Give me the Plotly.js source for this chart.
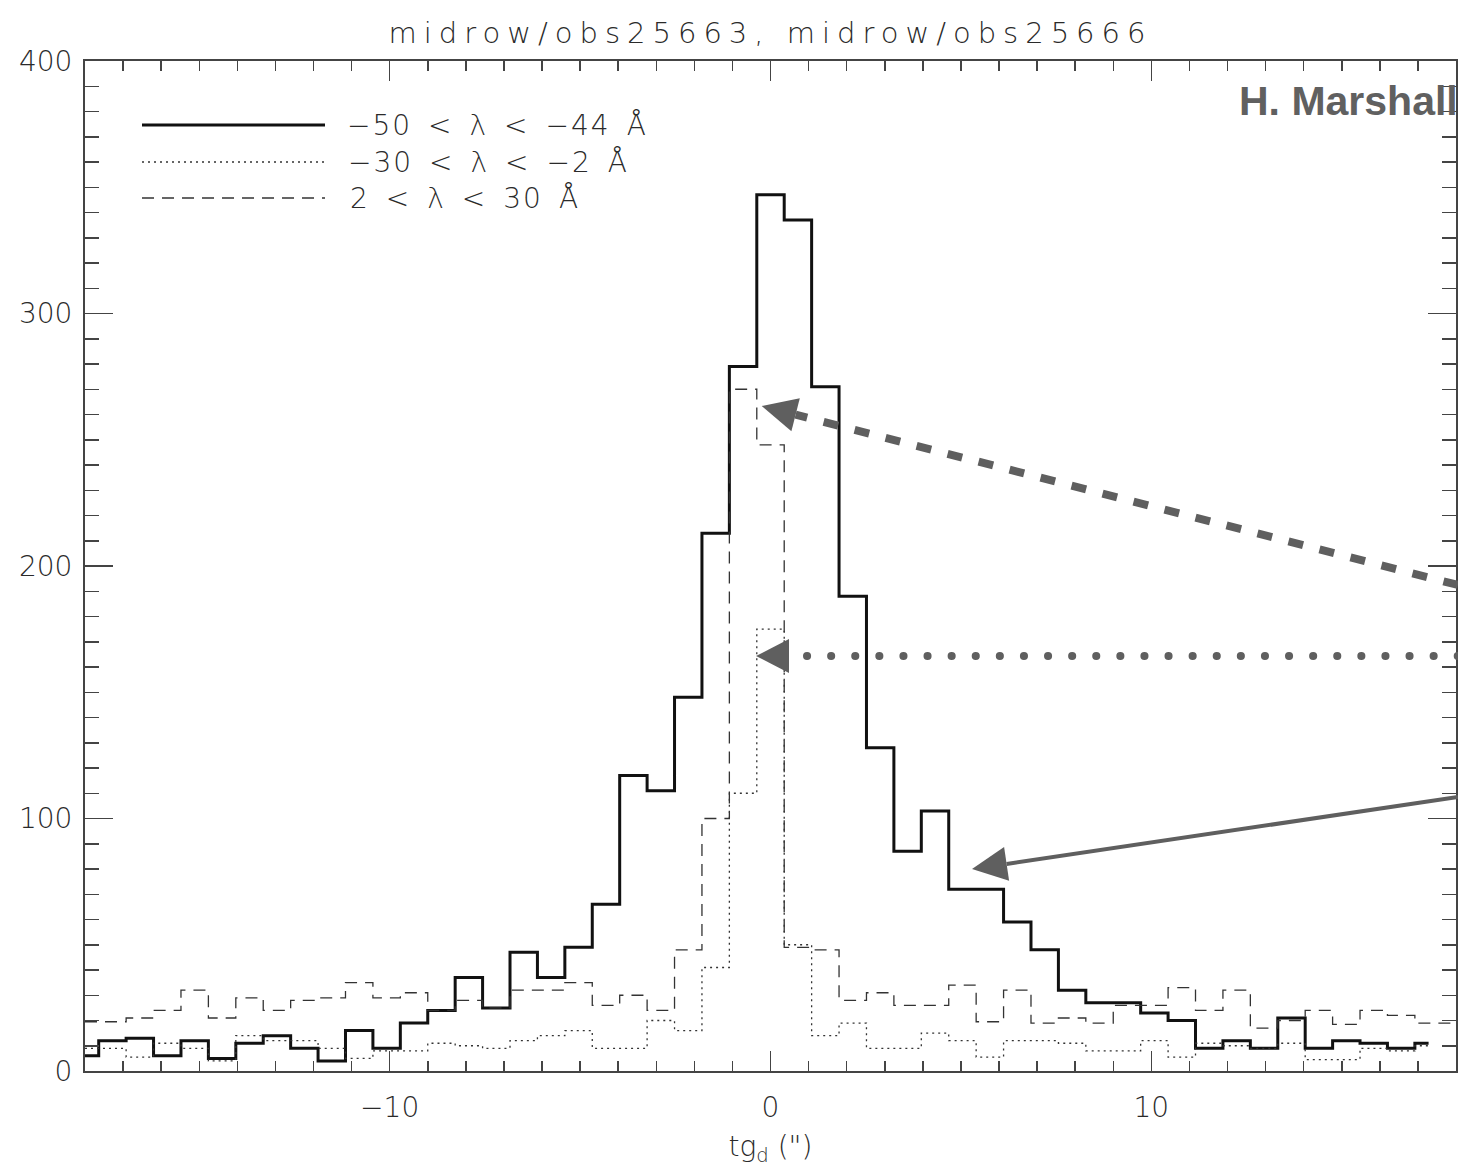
<!DOCTYPE html>
<html><head><meta charset="utf-8">
<script src="https://cdn.plot.ly/plotly-3.0.1.min.js"></script>
<style>html,body{margin:0;padding:0;background:#fff}</style>
</head><body>
<div id="chart" style="width:1458px;height:1168px"></div>
<script>
// bin centres of tg_d (arcsec)
const tgd = [-18.00,-17.28,-16.56,-15.84,-15.12,-14.40,-13.68,-12.96,-12.24,-11.52,-10.80,-10.08,-9.36,-8.64,-7.92,-7.20,-6.48,-5.76,-5.04,-4.32,-3.60,-2.88,-2.16,-1.44,-0.72,0.00,0.72,1.44,2.16,2.88,3.60,4.32,5.04,5.76,6.48,7.20,7.92,8.64,9.36,10.08,10.80,11.52,12.24,12.96,13.68,14.40,15.12,15.84,16.56,17.28,18.00];
// -50 < lambda < -44 A  (solid)
const counts_m50_m44 = [6,12,13,6,12,5,11,14,9,4,16,9,19,24,37,25,47,37,49,66,117,111,148,213,279,347,337,271,188,128,87,103,72,72,59,48,32,27,27,23,20,9,12,9,21,9,12,11,9,11];
// -30 < lambda < -2 A  (dotted)
const counts_m30_m2 = [9,9,5.5,11,9,4,14,12,12,9,5,8,8,11,10,9,12,14,16,9,9,20,16,41,110,175,50,14,19,9,9,15,12,5.5,12,12,11,8,8,12,5.5,11,10,9,11,4.5,4.5,9,8,10];
// 2 < lambda < 30 A  (dashed)
const counts_2_30 = [19.5,19.5,21,24,32,21,29,24,28,29,35,29,31,24,28,25,32,32,35,26,30,24,48,100,270,248,49,48,28,31,26,26,34,19.5,32,19,21,19,26,26,33,24,32,17,20,24,18.5,24,22,19,19];

const seriesNames = ['\u221250\u2002<\u2002\u03bb\u2002<\u2002\u221244\u2002\u00c5',
                     '\u221230\u2002<\u2002\u03bb\u2002<\u2002\u22122\u2002\u00c5',
                     '2\u2002<\u2002\u03bb\u2002<\u200230\u2002\u00c5'];
const xTickVals = [-10, 0, 10];
const yTickVals = [0, 100, 200, 300, 400];
const titleText = 'midrow/obs25663, midrow/obs25666';

const FONT = 'DejaVu Sans';
const TXT = '#2a2a2a';
const ARROW = '#5f5f5f';

// layout geometry helpers (pixel -> paper)
const L = 85, T = 61, W = 1371, H = 1010;
const px = p => (p - L) / W;
const py = p => (T + H - p) / H;
const pathOf = pts => 'M' + pts.map(p => px(p[0]) + ',' + py(p[1])).join('L') + 'Z';

const styles = [
  {color: '#111', width: 3, dash: 'solid'},
  {color: '#333', width: 1.3, dash: '2px,4px'},
  {color: '#333', width: 1.3, dash: '12px,8px'}
];
const ys = [counts_m50_m44, counts_m30_m2, counts_2_30];

const traces = ys.map((y, i) => ({
  type: 'scatter', mode: 'lines',
  x: tgd.slice(0, y.length), y: y,
  name: seriesNames[i],
  line: {shape: 'hvh', color: styles[i].color, width: styles[i].width, dash: styles[i].dash},
  showlegend: false, hoverinfo: 'skip'
}));

const legendY = [125, 162, 198];
const shapes = [];
const annotations = [];
legendY.forEach((yy, i) => {
  shapes.push({type: 'line', xref: 'paper', yref: 'paper', x0: px(142), x1: px(325), y0: py(yy), y1: py(yy),
    line: {color: styles[i].color, width: styles[i].width, dash: styles[i].dash}});
  annotations.push({xref: 'paper', yref: 'paper', x: px(360), y: py(yy), xanchor: 'left', yanchor: 'middle',
    text: seriesNames[i], showarrow: false, font: {family: FONT, size: 28, weight: 300, color: TXT}});
});

// arrows (annotation marks)
shapes.push({type: 'line', xref: 'paper', yref: 'paper', x0: px(1458), y0: py(585), x1: px(795.6), y1: py(414.7),
  line: {color: ARROW, width: 8, dash: '15px,17px'}});
shapes.push({type: 'path', xref: 'paper', yref: 'paper', path: pathOf([[761.7,406],[791.4,431.2],[799.8,398.2]]),
  fillcolor: ARROW, line: {width: 0}});
shapes.push({type: 'line', xref: 'paper', yref: 'paper', x0: px(807), y0: py(656), x1: px(1462), y1: py(656),
  line: {color: ARROW, width: 8, dash: '8px,16px'}});
shapes.push({type: 'path', xref: 'paper', yref: 'paper', path: pathOf([[756,656],[789,639],[789,673]]),
  fillcolor: ARROW, line: {width: 0}});
shapes.push({type: 'line', xref: 'paper', yref: 'paper', x0: px(1458), y0: py(797), x1: px(1006.6), y1: py(863.9),
  line: {color: ARROW, width: 4}});
shapes.push({type: 'path', xref: 'paper', yref: 'paper', path: pathOf([[972,869],[1009.1,880.7],[1004.1,847.1]]),
  fillcolor: ARROW, line: {width: 0}});

annotations.push({xref: 'paper', yref: 'paper', x: px(1460), y: py(101), xanchor: 'right', yanchor: 'middle',
  text: 'H. Marshall', showarrow: false,
  font: {family: 'Liberation Sans', size: 41, weight: 'bold', color: '#606060'}});

const axisCommon = {
  showline: true, linecolor: '#444', linewidth: 2, mirror: 'ticks',
  ticks: 'inside', tickcolor: '#444', tickwidth: 1.5,
  showgrid: false, zeroline: false,
  tickfont: {family: FONT, size: 28, weight: 300, color: TXT}
};

const layout = {
  width: 1458, height: 1168,
  margin: {l: L, r: 1458 - L - W, t: T, b: 1168 - T - H, pad: 0},
  paper_bgcolor: '#fff', plot_bgcolor: '#fff',
  showlegend: false,
  title: {text: titleText, x: 0.5, xref: 'paper', xanchor: 'center', y: 1 - 33 / 1168, yref: 'container', yanchor: 'middle',
    font: {family: FONT, size: 29, weight: 300, color: TXT}},
  xaxis: Object.assign({}, axisCommon, {
    range: [-18, 18], tickmode: 'array', tickvals: xTickVals, ticklen: 20,
    ticklabelstandoff: 10,
    minor: {dtick: 1, tick0: 0, ticks: 'inside', ticklen: 10, tickcolor: '#444', tickwidth: 1.5},
    title: {text: 'tg<sub><span style="color:#2a2a2a">d</span></sub> (")', font: {family: FONT, size: 28, weight: 300, color: TXT}, standoff: 14}
  }),
  yaxis: Object.assign({}, axisCommon, {
    range: [0, 400], tickmode: 'array', tickvals: yTickVals, ticklen: 28,
    ticklabelstandoff: 5,
    minor: {dtick: 10, tick0: 0, ticks: 'inside', ticklen: 14, tickcolor: '#444', tickwidth: 1.5}
  }),
  shapes: shapes, annotations: annotations
};

Plotly.newPlot('chart', traces, layout, {staticPlot: true}).then(gd => {
  const t = gd.querySelector('.gtitle');
  if (t) t.style.letterSpacing = '7px';
  gd.querySelectorAll('.annotation-text').forEach(a => {
    if (a.textContent.indexOf('\u03bb') >= 0) a.style.letterSpacing = '2px';
  });
  const dot = gd.querySelector('.shapelayer path[data-index="5"]');
  if (dot) { dot.style.strokeLinecap = 'round'; dot.style.strokeDasharray = '0.1px,24px'; }
});
</script>
</body></html>
